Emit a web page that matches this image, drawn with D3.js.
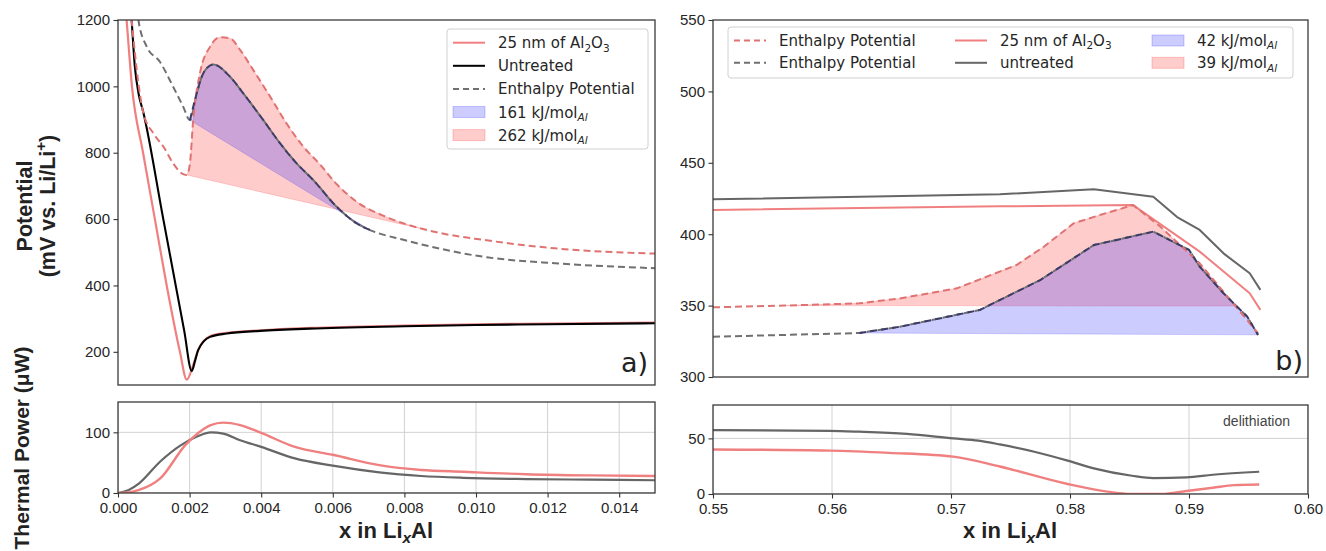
<!DOCTYPE html>
<html>
<head>
<meta charset="utf-8">
<script src="https://cdn.jsdelivr.net/npm/d3@7"></script>
<style>
  body { margin: 0; background: #fff; }
  svg { display: block; font-family: "DejaVu Sans", sans-serif; }
  .tick text { font-size: 15px; fill: #262626; }
  .tick line { stroke: #333; stroke-width: 1.1; }
  .domain { display: none; }
</style>
</head>
<body>
<svg id="chart" width="1326" height="551"></svg>
<script>

// a) potential, mV
var coatedA = [[0.0001,1380],[0.00024,1200],[0.00039,1000],[0.0007,800],[0.00103,600],[0.00136,400],
  [0.00173,200],[0.00192,116],[0.0021,160],[0.00224,206],[0.00257,247],[0.00304,257],[0.004,265],
  [0.0054,272],[0.008,279],[0.010,283],[0.012,285],[0.015,288]];
var untreatedA = [[0.0002,1420],[0.00038,1200],[0.00047,1060],[0.00058,975],[0.0007,925],[0.00126,603],
  [0.00185,263],[0.00206,142],[0.00215,172],[0.00224,205],[0.00257,245],[0.00304,255],[0.00397,263],
  [0.00536,270],[0.008,277],[0.010,281],[0.012,283],[0.015,286]];
var enthCoatedA = [[0.0002,1400],[0.00038,1200],[0.00057,1009],[0.00071,919],[0.00099,858],[0.00127,818],
  [0.00154,768],[0.00178,738],[0.00192,733],[0.00201,768],[0.0021,898],[0.00229,1040],[0.00257,1119],
  [0.00285,1148],[0.00313,1145],[0.00341,1110],[0.00378,1049],[0.00425,969],[0.00471,888],[0.00518,818],
  [0.00564,765],[0.00611,705],[0.00667,652],[0.0075,606],[0.00863,567],[0.0103,536],[0.0122,512],[0.015,496]];
var enthUntreatedA = [[0.0004,1400],[0.0005,1300],[0.00057,1200],[0.0008,1120],[0.00117,1074],[0.00154,999],
  [0.00182,939],[0.00201,898],[0.0022,979],[0.00238,1039],[0.00266,1066],[0.00313,1029],[0.0035,979],
  [0.00406,898],[0.00453,828],[0.00499,768],[0.00546,717],[0.00611,637],[0.00667,587],[0.00704,567],
  [0.008,537],[0.0103,485],[0.0122,467],[0.015,452]];
var blueRangeA = [0.00201, 0.00704];
var redRangeA = [0.00192, 0.00863];

// a) thermal power, µW
var heatUntreatedA = [[0,0],[0.0003,5],[0.00059,16],[0.00118,52],[0.00176,79],[0.00224,94],[0.00259,100],
  [0.00294,98],[0.00341,87],[0.004,76],[0.00494,57],[0.006,45],[0.0073,34],[0.00847,28],[0.00965,25],
  [0.0114,23],[0.0132,22],[0.015,21]];
var heatCoatedA = [[0,0],[0.0003,1],[0.00059,5],[0.00118,24],[0.00188,79],[0.00224,99],[0.00259,112],
  [0.00294,116],[0.00341,112],[0.004,99],[0.00494,76],[0.006,63],[0.0073,46],[0.00847,38],[0.00965,35],
  [0.0114,31],[0.0132,29],[0.015,28]];

// b) potential, mV
var coatedB = [[0.55,417],[0.5741,419.5],[0.5853,420.4],[0.5909,387.8],[0.5951,358.6],[0.596,347]];
var untreatedB = [[0.55,424.4],[0.5741,428],[0.582,431.4],[0.587,426.3],[0.589,412],[0.5909,403],
  [0.5929,386.6],[0.5951,372.6],[0.596,361]];
var enthCoatedB = [[0.55,348.8],[0.556,350],[0.5623,351.6],[0.5657,355],[0.5705,362.1],[0.5755,378.4],
  [0.5778,391.2],[0.5803,407.6],[0.5825,413.4],[0.5853,420.4],[0.5876,405.3],[0.5909,379.6],
  [0.5939,349.7],[0.5958,330.6]];
var enthUntreatedB = [[0.55,328.2],[0.5623,330.8],[0.5657,335.2],[0.5724,346.9],[0.5775,367.9],
  [0.582,392.4],[0.587,401.8],[0.59,389],[0.5909,377.3],[0.5929,358.6],[0.5949,342.2],[0.5958,329.5]];
var blueRangeB = [0.5623, 0.5958];
var redRangeB = [0.556, 0.5939];

// b) thermal power, µW
var heatUntreatedB = [[0.55,57.4],[0.5598,56.8],[0.5623,56],[0.5663,54],[0.5702,50],[0.5723,48],
  [0.5741,44.6],[0.577,38],[0.5798,30],[0.582,23],[0.5852,16.4],[0.587,14.3],[0.5898,14.9],[0.592,17.3],[0.5959,20]];
var heatCoatedB = [[0.55,40],[0.5598,39],[0.5648,37],[0.5702,33.6],[0.5741,24.7],[0.5798,9],[0.583,2.4],
  [0.5852,0],[0.5877,0],[0.5898,2.7],[0.592,5.6],[0.5938,8],[0.5959,8.6]];

// ticks
var xTicksA = [0,0.002,0.004,0.006,0.008,0.010,0.012,0.014];
var xTicksB = [0.55,0.56,0.57,0.58,0.59,0.60];
var yTicksA = [200,400,600,800,1000,1200];
var yTicksB = [300,350,400,450,500,550];
var heatTicksA = [0,100];
var heatTicksB = [0,50];

// ---- styles ----
var RED = "#f08080", RED_DASH = "#e07272", GRAY = "#666", GRAY_DASH = "#707070";
var BLUE_FILL = "rgba(0,0,255,0.2)", RED_FILL = "rgba(255,0,0,0.2)";
var DASH = "7,4";

var svg = d3.select("#chart");

function panel(id, box, xd, yd) {
  var p = {box: box};
  p.x = d3.scaleLinear().domain(xd).range([box.left, box.right]);
  p.y = d3.scaleLinear().domain(yd).range([box.bottom, box.top]);
  svg.append("clipPath").attr("id", id).append("rect")
    .attr("x", box.left).attr("y", box.top)
    .attr("width", box.right - box.left).attr("height", box.bottom - box.top);
  p.g = svg.append("g");
  p.plot = p.g.append("g").attr("clip-path", "url(#" + id + ")");
  return p;
}

function frame(p) {
  p.g.append("rect")
    .attr("x", p.box.left).attr("y", p.box.top)
    .attr("width", p.box.right - p.box.left).attr("height", p.box.bottom - p.box.top)
    .attr("fill", "none").attr("stroke", "#3a3a3a").attr("stroke-width", 1.3);
}

function grid(p, xt, yt) {
  p.plot.selectAll(null).data(xt).enter().append("line")
    .attr("x1", p.x).attr("x2", p.x).attr("y1", p.box.top).attr("y2", p.box.bottom)
    .attr("stroke", "#d2d2d2").attr("stroke-width", 1);
  p.plot.selectAll(null).data(yt).enter().append("line")
    .attr("y1", p.y).attr("y2", p.y).attr("x1", p.box.left).attr("x2", p.box.right)
    .attr("stroke", "#d2d2d2").attr("stroke-width", 1);
}

function lineGen(p, curve) {
  return d3.line().x(function(d) { return p.x(d[0]); }).y(function(d) { return p.y(d[1]); })
    .curve(curve || d3.curveLinear);
}

function drawLine(p, data, color, w, dash, curve) {
  var path = p.plot.append("path").datum(data)
    .attr("d", lineGen(p, curve))
    .attr("fill", "none").attr("stroke", color).attr("stroke-width", w)
    .attr("stroke-linejoin", "round");
  if (dash) path.attr("stroke-dasharray", dash);
  return path;
}

// fill between a curve segment and the chord joining its ends
function drawFill(p, data, range, color, curve) {
  var seg = data.filter(function(d) { return d[0] >= range[0] - 1e-9 && d[0] <= range[1] + 1e-9; });
  p.plot.append("path").datum(seg)
    .attr("d", function(d) { return lineGen(p, curve)(d) + "Z"; })
    .attr("fill", color).attr("stroke", color).attr("stroke-width", 0.8);
  return seg;
}

function yAxis(p, ticks, fmt) {
  p.g.append("g").attr("transform", "translate(" + p.box.left + ",0)")
    .call(d3.axisLeft(p.y).tickValues(ticks).tickSize(4.5).tickPadding(3.5).tickFormat(fmt || d3.format("d")));
}
function xAxis(p, ticks, fmt) {
  p.g.append("g").attr("transform", "translate(0," + p.box.bottom + ")")
    .call(d3.axisBottom(p.x).tickValues(ticks).tickSize(4.5).tickPadding(5).tickFormat(fmt));
}

// rich text: parts = [[string, mode]] mode: "", "sub", "isub", "sup"
function rich(sel, x, y, parts, fs, attrs) {
  var t = sel.append("text").attr("x", x).attr("y", y).attr("font-size", fs);
  for (var k in attrs) t.attr(k, attrs[k]);
  var shift = 0;
  parts.forEach(function(pt) {
    var m = pt[1] || "";
    var target = (m === "sub" || m === "isub") ? fs * 0.22 : (m === "sup" ? -fs * 0.4 : 0);
    var ts = t.append("tspan").text(pt[0]);
    if (target - shift !== 0) ts.attr("dy", target - shift);
    shift = target;
    if (m) ts.attr("font-size", fs * 0.7);
    if (m === "isub") ts.attr("font-style", "italic");
  });
  return t;
}

var curve = d3.curveMonotoneX;

// ---- panel a) top ----
var pa = panel("ca", {left: 118, right: 655, top: 20, bottom: 385}, [0, 0.015], [100, 1200]);
drawFill(pa, enthCoatedA, redRangeA, RED_FILL, curve);
var blueSegA = drawFill(pa, enthUntreatedA, blueRangeA, BLUE_FILL, curve);
drawLine(pa, coatedA, RED, 2.2, null, curve);
drawLine(pa, untreatedA, "#000", 2.1, null, curve);
drawLine(pa, enthUntreatedA, GRAY_DASH, 2, DASH, curve);
drawLine(pa, enthCoatedA, RED_DASH, 2, DASH, curve);
drawLine(pa, blueSegA, "#3c3c66", 2, DASH, curve);
frame(pa);
yAxis(pa, yTicksA);
pa.g.append("text").attr("x", 648).attr("y", 372).attr("text-anchor", "end")
  .attr("font-size", 27).attr("fill", "#222").text("a)");

// ---- panel a) bottom ----
var ha = panel("cha", {left: 118, right: 655, top: 402, bottom: 493}, [0, 0.015], [0, 150]);
grid(ha, xTicksA, heatTicksA);
drawLine(ha, heatUntreatedA, GRAY, 2.2, null, curve);
drawLine(ha, heatCoatedA, RED, 2.4, null, curve);
frame(ha);
yAxis(ha, heatTicksA);
xAxis(ha, xTicksA, d3.format(".3f"));

// ---- panel b) top ----
var pb = panel("cb", {left: 713, right: 1308, top: 20, bottom: 377}, [0.55, 0.60], [300, 550]);
drawFill(pb, enthCoatedB, redRangeB, RED_FILL);
var blueSegB = drawFill(pb, enthUntreatedB, blueRangeB, BLUE_FILL);
drawLine(pb, untreatedB, GRAY, 2);
drawLine(pb, coatedB, RED, 2);
drawLine(pb, enthUntreatedB, GRAY_DASH, 2, DASH);
drawLine(pb, enthCoatedB, RED_DASH, 2, DASH);
drawLine(pb, blueSegB, "#3c3c66", 2, DASH);
frame(pb);
yAxis(pb, yTicksB);
pb.g.append("text").attr("x", 1303).attr("y", 370).attr("text-anchor", "end")
  .attr("font-size", 27).attr("fill", "#222").text("b)");

// ---- panel b) bottom ----
var hb = panel("chb", {left: 713, right: 1308, top: 405, bottom: 494}, [0.55, 0.60], [0, 80]);
grid(hb, xTicksB, heatTicksB);
drawLine(hb, heatUntreatedB, GRAY, 2.2, null, curve);
drawLine(hb, heatCoatedB, RED, 2.4, null, curve);
frame(hb);
yAxis(hb, heatTicksB);
xAxis(hb, xTicksB, d3.format(".2f"));
hb.g.append("text").attr("x", 1290).attr("y", 426).attr("text-anchor", "end")
  .attr("font-family", "Liberation Sans, Arial, sans-serif").attr("font-size", 14)
  .attr("fill", "#444").text("delithiation");

// ---- axis labels ----
var bold = {"font-family": "Liberation Sans, Arial, sans-serif", "font-weight": "bold", "fill": "#222", "text-anchor": "middle"};
var lab = svg.append("g").attr("transform", "translate(32,206) rotate(-90)");
rich(lab, 0, 0, [["Potential"]], 21.5, bold);
rich(lab, 0, 23, [["(mV vs. Li/Li"], ["+", "sup"], [")"]], 21.5, bold);
var lab2 = svg.append("g").attr("transform", "translate(29,448) rotate(-90)");
rich(lab2, 0, 0, [["Thermal Power (μW)"]], 21, bold);
rich(svg, 386, 538, [["x in Li"], ["x", "isub"], ["Al"]], 22, bold);
rich(svg, 1010, 538, [["x in Li"], ["x", "isub"], ["Al"]], 22, bold);

// ---- legends ----
function legendBox(x0, y0, x1, y1) {
  svg.append("rect").attr("x", x0).attr("y", y0).attr("width", x1 - x0).attr("height", y1 - y0)
    .attr("rx", 3).attr("fill", "rgba(255,255,255,0.85)").attr("stroke", "#d0d0d0").attr("stroke-width", 1);
}
function handle(x, y, item) {
  if (item.patch) {
    svg.append("rect").attr("x", x).attr("y", y - 5.5).attr("width", 32).attr("height", 11)
      .attr("fill", item.patch).attr("stroke", item.patch);
  } else {
    var l = svg.append("line").attr("x1", x).attr("x2", x + 32).attr("y1", y).attr("y2", y)
      .attr("stroke", item.color).attr("stroke-width", 2);
    if (item.dash) l.attr("stroke-dasharray", "6,4");
  }
  rich(svg, x + 45, y + 5.5, item.label, 15, {"fill": "#262626"});
}

var legendA = [
  {color: RED, label: [["25 nm of Al"], ["2", "sub"], ["O"], ["3", "sub"]]},
  {color: "#000", label: [["Untreated"]]},
  {color: GRAY_DASH, dash: true, label: [["Enthalpy Potential"]]},
  {patch: BLUE_FILL, label: [["161 kJ/mol"], ["Al", "isub"]]},
  {patch: RED_FILL, label: [["262 kJ/mol"], ["Al", "isub"]]}
];
legendBox(447, 29, 648, 149);
legendA.forEach(function(it, i) { handle(453, 42.7 + i * 23.1, it); });

var legendB = [
  {color: RED_DASH, dash: true, label: [["Enthalpy Potential"]]},
  {color: GRAY_DASH, dash: true, label: [["Enthalpy Potential"]]},
  {color: RED, label: [["25 nm of Al"], ["2", "sub"], ["O"], ["3", "sub"]]},
  {color: GRAY, label: [["untreated"]]},
  {patch: BLUE_FILL, label: [["42 kJ/mol"], ["Al", "isub"]]},
  {patch: RED_FILL, label: [["39 kJ/mol"], ["Al", "isub"]]}
];
var colX = [734, 955, 1152];
legendBox(728, 27, 1293, 78);
legendB.forEach(function(it, i) { handle(colX[Math.floor(i / 2)], 40.5 + (i % 2) * 22.3, it); });
</script>
</body>
</html>
